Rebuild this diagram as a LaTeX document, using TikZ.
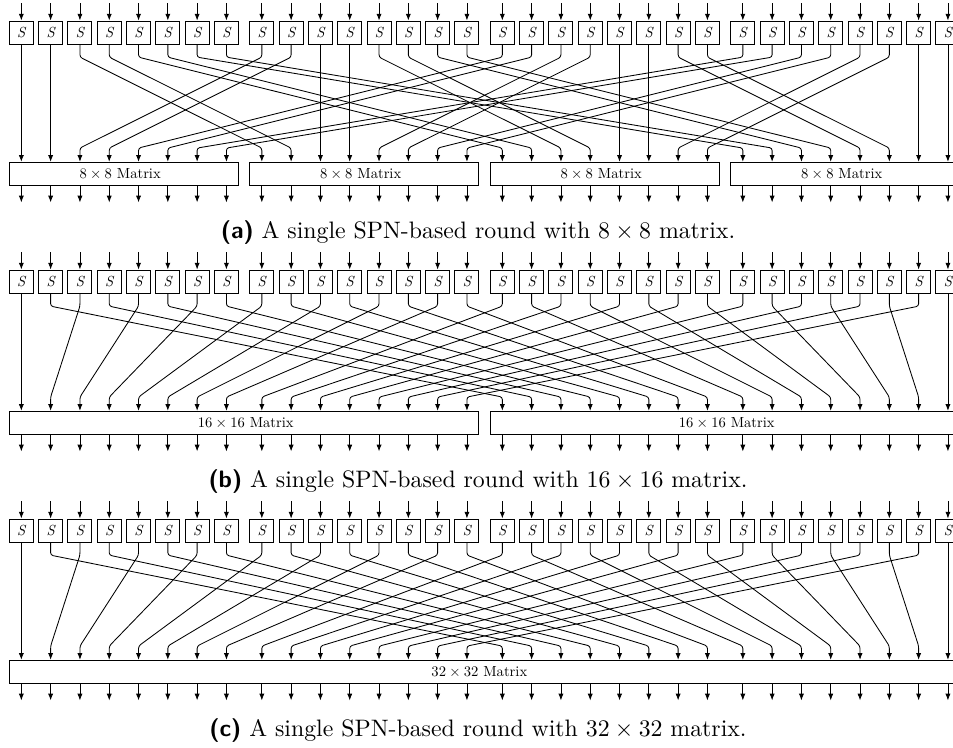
\documentclass[tikz,border=0pt]{standalone}
\usepackage{fontspec}
\setmainfont{lmroman10-regular}[Extension=.otf, ItalicFont=lmroman10-italic, BoldFont=lmroman10-bold]
\setsansfont{lmsans10-regular}[Extension=.otf, BoldFont=lmsans10-bold]
\usetikzlibrary{arrows.meta,calc}
\newcommand\tms{\hspace{0.222em}×\hspace{0.222em}}
\begin{document}
\begin{tikzpicture}[x=1pt,y=-1pt,
  sbox/.style={draw, line width=0.9pt, minimum width=24pt, minimum height=23.3pt, inner sep=0pt, font=\fontsize{14.6}{17}\selectfont\itshape},
  mbox/.style={draw, line width=0.9pt, minimum height=22.7pt, inner sep=0pt},
  mlabel/.style={font=\fontsize{14.6}{17}\selectfont, inner sep=0pt},
  wire/.style={-{Latex[length=6.8pt,width=5.2pt]}, line width=0.85pt, rounded corners=2.5pt},
  capnode/.style={font=\fontsize{23.8}{28}\selectfont, anchor=base, inner sep=0pt}
]
\useasboundingbox (0,0) rectangle (953,747);
\clip (0,0) rectangle (953,747);

% ---------- S-boxes and input arrows for the three panels ----------
\foreach \p/\off in {a/0,b/249,c/498} {
  \foreach \i in {0,...,31} {
    \pgfmathsetmacro\xx{21.33+29.3*mod(\i,8)+240.5*floor(\i/8)}
    \node[sbox] (s\p\i) at (\xx,\off+32.65) {S};
    \coordinate (in\p\i) at (\xx,\off+3.3);
    \draw[wire] (in\p\i) -- (s\p\i);
  }
}

% ---------- matrices ----------
% panel a: four 8x8
\foreach \m in {0,...,3} {
  \pgfmathsetmacro\xl{21.33+240.5*\m-12}
  \pgfmathsetmacro\xr{21.33+240.5*\m+205.1+12}
  \pgfmathsetmacro\w{\xr-\xl}
  \pgfmathsetmacro\xc{(\xl+\xr)/2}
  \node[mbox, minimum width=\w pt] (ma\m) at (\xc,173.65) {};
  \node[mlabel] (la\m) at ($(ma\m.center)+(-3.7,0)$) {8\tms 8 Matrix};
}
% panel b: two 16x16
\foreach \m in {0,1} {
  \pgfmathsetmacro\xl{21.33+481*\m-12}
  \pgfmathsetmacro\xr{21.33+481*\m+240.5+205.1+12}
  \pgfmathsetmacro\w{\xr-\xl}
  \pgfmathsetmacro\xc{(\xl+\xr)/2}
  \node[mbox, minimum width=\w pt] (mb\m) at (\xc,422.65) {};
  \node[mlabel] (lb\m) at ($(mb\m.center)+(1.6,0)$) {16\tms 16 Matrix};
}
% panel c: one 32x32
\pgfmathsetmacro\xl{21.33-12}
\pgfmathsetmacro\xr{21.33+721.5+205.1+12}
\pgfmathsetmacro\w{\xr-\xl}
\pgfmathsetmacro\xc{(\xl+\xr)/2}
\node[mbox, minimum width=\w pt] (mc0) at (\xc,671.65) {};
\node[mlabel] (lc0) at ($(mc0.center)+(-5.3,0)$) {32\tms 32 Matrix};

% ---------- permutation wires ----------
% panel a
\foreach \i in {0,...,31} {
  \pgfmathtruncatemacro\d{8*floor(mod(\i,8)/2)+2*floor(\i/8)+mod(\i,2)}
  \pgfmathtruncatemacro\m{floor(\d/8)}
  \ifnum\d=\i
    \draw[wire] (sa\i) -- (sa\i |- ma\m.north);
  \else
    \draw[wire] (sa\i.south) -- ++(0,12.4) -- ($(sa\d |- ma\m.north)+(0,-13.8)$) -- (sa\d |- ma\m.north);
  \fi
  \pgfmathtruncatemacro\o{floor(\i/8)}
  \coordinate (outa\i) at ($(sa\i |- ma\o.south)+(0,17)$);
  \draw[wire] (sa\i |- ma\o.south) -- (outa\i);
}
% panels b and c
\foreach \p/\nb in {b/16,c/32} {
  \foreach \i in {0,...,31} {
    \pgfmathtruncatemacro\d{ifthenelse(mod(\i,2)==0,\i/2,16+(\i-1)/2)}
    \pgfmathtruncatemacro\m{floor(\d/\nb)}
    \ifnum\d=\i
      \draw[wire] (s\p\i) -- (s\p\i |- m\p\m.north);
    \else
      \draw[wire] (s\p\i.south) -- ++(0,12.4) -- ($(s\p\d |- m\p\m.north)+(0,-13.8)$) -- (s\p\d |- m\p\m.north);
    \fi
    \pgfmathtruncatemacro\o{floor(\i/\nb)}
    \coordinate (out\p\i) at ($(s\p\i |- m\p\o.south)+(0,17)$);
    \draw[wire] (s\p\i |- m\p\o.south) -- (out\p\i);
  }
}

% ---------- captions ----------
\node[capnode] (capa) at (478,238) {{\sffamily\bfseries (a)}\ A single SPN-based round with 8\tms 8 matrix.};
\node[capnode] (capb) at (478,487) {{\sffamily\bfseries (b)}\ A single SPN-based round with 16\tms 16 matrix.};
\node[capnode] (capc) at (478,736) {{\sffamily\bfseries (c)}\ A single SPN-based round with 32\tms 32 matrix.};
\end{tikzpicture}
\end{document}
